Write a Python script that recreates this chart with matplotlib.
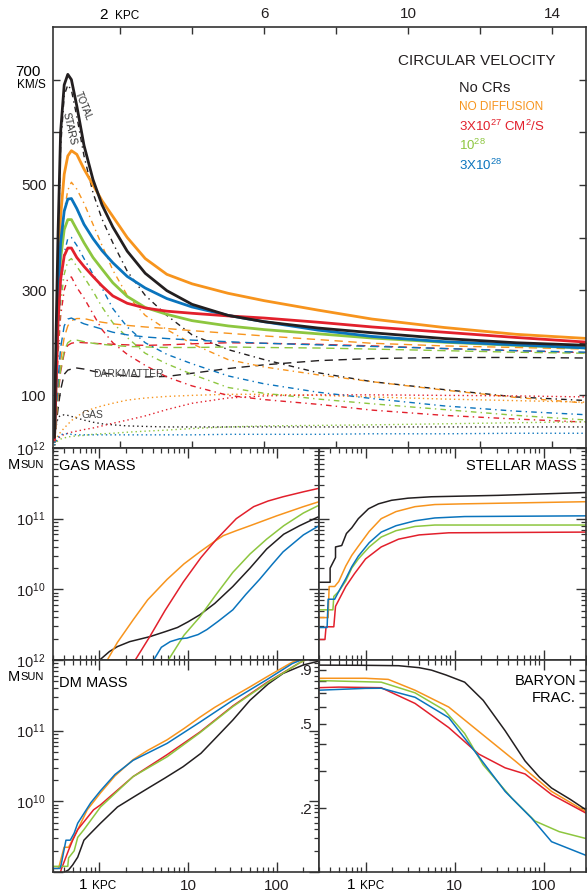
import numpy as np
import matplotlib
matplotlib.use("Agg")
import matplotlib.pyplot as plt
from matplotlib.ticker import LogLocator, NullLocator, NullFormatter, FixedLocator

plt.rcParams["font.family"] = ["Liberation Sans", "DejaVu Sans"]
plt.rcParams["mathtext.fontset"] = "custom"
plt.rcParams["mathtext.rm"] = "Liberation Sans"
plt.rcParams["mathtext.it"] = "Liberation Sans:italic"
plt.rcParams["mathtext.bf"] = "Liberation Sans:bold"

# ---- circular velocity panel (km/s vs kpc) ----
r_v = [0.18, 0.22, 0.28, 0.35, 0.45, 0.55, 0.65, 0.8, 1.0, 1.25, 1.5, 1.8,
       2.2, 2.7, 3.3, 4.0, 5.0, 6.0, 7.5, 9.0, 11.0, 13.0, 15.0]

vtot_nocr = [20, 200, 410, 600, 690, 710, 700, 650, 575, 510, 462, 420, 374, 332, 299, 273, 252, 240, 228, 219, 208, 200, 195]
vtot_nodiff = [20, 150, 330, 440, 520, 555, 565, 558, 530, 500, 470, 440, 400, 360, 330, 312, 294, 280, 262, 245, 229, 216, 208]
vtot_3e27 = [15, 110, 240, 320, 365, 380, 380, 362, 345, 326, 308, 289, 275, 266, 260, 256, 251, 247, 239, 230, 220, 210, 201]
vtot_1e28 = [15, 120, 270, 360, 415, 434, 434, 415, 390, 362, 340, 314, 288, 267, 254, 242, 232, 225, 217, 209, 201, 195, 190]
vtot_3e28 = [15, 130, 290, 390, 450, 473, 474, 455, 425, 398, 375, 352, 326, 304, 284, 268, 252, 240, 224, 212, 202, 196, 190]

vst_nocr = [10, 180, 380, 570, 670, 690, 680, 630, 555, 485, 435, 390, 336, 290, 252, 215, 187, 168, 143, 126, 111, 97, 90]
vst_nodiff = [10, 110, 250, 360, 450, 490, 505, 492, 465, 425, 385, 338, 290, 252, 225, 198, 168, 154, 139, 126, 110, 96, 85]
vst_3e27 = [10, 80, 180, 250, 300, 322, 325, 305, 285, 255, 225, 200, 178, 157, 135, 118, 100, 92, 83, 72, 62, 55, 49]
vst_1e28 = [10, 85, 195, 275, 330, 355, 360, 345, 325, 298, 268, 238, 210, 180, 160, 140, 115, 104, 93, 84, 73, 62, 53]
vst_3e28 = [10, 90, 210, 300, 370, 398, 400, 385, 360, 330, 304, 265, 230, 200, 178, 160, 137, 122, 106, 94, 80, 70, 63]

vdm_nocr = [10, 40, 75, 110, 140, 148, 150, 152, 150, 146, 143, 140, 137, 135, 136, 142, 151, 158, 166, 170, 172, 172, 171]
vdm_nodiff = [10, 50, 110, 165, 210, 232, 242, 246, 246, 242, 239, 236, 233, 230, 227, 223, 218, 213, 206, 199, 194, 191, 188]
vdm_3e27 = [10, 50, 100, 145, 180, 195, 199, 201, 200, 199, 198, 197, 196, 195, 196, 198, 200, 199, 197, 194, 189, 185, 181]
vdm_1e28 = [10, 50, 105, 150, 185, 200, 205, 205, 202, 199, 197, 195, 193, 192, 191, 191, 192, 191, 190, 188, 185, 182, 180]
vdm_3e28 = [10, 60, 130, 190, 232, 245, 247, 242, 236, 231, 226, 220, 215, 211, 208, 205, 202, 199, 196, 193, 189, 185, 182]

vgas_nocr = [10, 40, 58, 62, 63, 62, 60, 57, 53, 49, 46, 44, 42, 41, 40, 40, 40, 40, 40, 40, 40, 40, 40]
vgas_nodiff = [5, 15, 25, 30, 38, 45, 52, 60, 68, 75, 80, 85, 91, 95, 98, 100, 102, 102, 100, 97, 93, 90, 87]
vgas_3e27 = [5, 12, 18, 22, 26, 28, 30, 32, 35, 38, 42, 47, 53, 61, 73, 85, 95, 99, 101, 101, 100, 99, 97]
vgas_1e28 = [5, 10, 14, 17, 19, 21, 22, 23, 24, 26, 27, 28, 30, 32, 34, 37, 40, 42, 43, 44, 46, 48, 50]
vgas_3e28 = [5, 12, 20, 25, 27, 27, 26, 25, 25, 25, 25, 25, 25, 25, 25, 25, 26, 26, 26, 27, 27, 28, 28]

# ---- gas mass (log10 Msun) ----
rg_nocr = [0.9, 1.03, 1.3, 1.6, 2.2, 3.7, 5.5, 7.6, 10, 13.6, 20, 32, 50, 77, 120, 181, 300]
mg_nocr = [8.97, 9.01, 9.12, 9.19, 9.26, 9.33, 9.4, 9.46, 9.54, 9.64, 9.8, 10.04, 10.3, 10.57, 10.78, 10.9, 11.03]
rg_nodiff = [1.1, 1.23, 1.6, 2.41, 3.5, 5.8, 9, 13.6, 20, 25, 35, 50, 100, 200, 300]
mg_nodiff = [8.9, 9.0, 9.25, 9.57, 9.85, 10.14, 10.36, 10.53, 10.68, 10.76, 10.83, 10.9, 11.04, 11.17, 11.24]
rg_3e27 = [2.3, 2.54, 3.7, 5.5, 8.8, 14, 21, 35, 55, 80, 118, 200, 300]
mg_3e27 = [8.85, 9.0, 9.33, 9.7, 10.1, 10.45, 10.71, 11.0, 11.17, 11.25, 11.31, 11.38, 11.43]
rg_1e28 = [5.5, 6, 9, 13.6, 20, 32, 50, 77, 120, 200, 300]
mg_1e28 = [8.9, 9.0, 9.35, 9.61, 9.9, 10.24, 10.5, 10.71, 10.9, 11.08, 11.19]
rg_3e28 = [3.8, 4.1, 5, 6.3, 8, 9.7, 13, 16.3, 22, 32, 45, 64, 90, 118, 200, 300]
mg_3e28 = [8.9, 9.0, 9.18, 9.26, 9.3, 9.31, 9.36, 9.43, 9.55, 9.71, 9.93, 10.14, 10.36, 10.53, 10.77, 10.9]

# ---- stellar mass (log10 Msun) ----
rs_nocr = [0.29, 0.40, 0.40, 0.46, 0.46, 0.54, 0.61, 0.7, 0.83, 1.08, 1.4, 1.96, 3, 5.5, 31, 300]
ms_nocr = [10.1, 10.1, 10.3, 10.45, 10.6, 10.62, 10.79, 10.87, 11.0, 11.14, 11.21, 11.26, 11.29, 11.31, 11.33, 11.37]
rs_nodiff = [0.29, 0.38, 0.39, 0.45, 0.5, 0.6, 0.7, 0.83, 1.1, 1.5, 2.2, 3.6, 6, 13, 300]
ms_nodiff = [9.6, 9.6, 10.04, 10.04, 10.11, 10.33, 10.48, 10.61, 10.82, 11.0, 11.1, 11.17, 11.2, 11.21, 11.24]
rs_3e27 = [0.29, 0.35, 0.36, 0.44, 0.46, 0.6, 0.75, 1.0, 1.5, 2.35, 4, 8.6, 300]
ms_3e27 = [9.29, 9.29, 9.47, 9.47, 9.76, 10.04, 10.22, 10.43, 10.6, 10.71, 10.77, 10.8, 10.81]
rs_1e28 = [0.29, 0.43, 0.44, 0.5, 0.6, 0.7, 0.83, 1.1, 1.5, 2.2, 3.6, 6, 13, 300]
ms_1e28 = [9.71, 9.71, 9.9, 9.97, 10.12, 10.3, 10.43, 10.6, 10.74, 10.83, 10.89, 10.91, 10.91, 10.91]
rs_3e28 = [0.29, 0.37, 0.38, 0.45, 0.5, 0.6, 0.7, 0.83, 1.1, 1.5, 2.2, 3.6, 6, 13, 300]
ms_3e28 = [9.46, 9.46, 9.86, 9.86, 9.97, 10.15, 10.32, 10.47, 10.66, 10.81, 10.9, 10.97, 11.01, 11.03, 11.04]

# ---- dark matter mass (log10 Msun) ----
rd_nocr = [0.29, 0.45, 0.5, 0.57, 0.67, 0.8, 1.03, 1.6, 2.5, 3.7, 5.5, 8.8, 14, 21, 32, 50, 80, 118, 200, 290]
md_nocr = [8.9, 9.03, 9.1, 9.21, 9.45, 9.55, 9.69, 9.92, 10.07, 10.2, 10.33, 10.49, 10.68, 10.91, 11.15, 11.43, 11.66, 11.81, 11.93, 11.98]
rd_nodiff = [0.29, 0.34, 0.35, 0.40, 0.45, 0.57, 0.73, 1.03, 1.5, 2.4, 3.5, 5.8, 9, 13.6, 20, 32, 50, 77, 150, 300]
md_nodiff = [9.05, 9.05, 9.07, 9.35, 9.35, 9.6, 9.88, 10.12, 10.36, 10.59, 10.72, 10.87, 11.03, 11.19, 11.33, 11.48, 11.62, 11.76, 11.97, 12.1]
rd_3e27 = [0.29, 0.36, 0.37, 0.45, 0.5, 0.57, 0.86, 1.03, 2.4, 5.8, 13.6, 32, 77, 181, 300]
md_3e27 = [8.95, 8.95, 9.03, 9.31, 9.45, 9.6, 9.88, 9.95, 10.35, 10.66, 10.98, 11.35, 11.68, 11.96, 12.1]
rd_1e28 = [0.29, 0.44, 0.45, 0.52, 0.57, 0.67, 1.03, 2.4, 5.8, 13.6, 32, 77, 181, 300]
md_1e28 = [9.08, 9.08, 9.2, 9.3, 9.49, 9.6, 9.92, 10.35, 10.63, 10.97, 11.34, 11.67, 11.96, 12.1]
rd_3e28 = [0.29, 0.36, 0.37, 0.42, 0.47, 0.52, 0.57, 0.8, 1.03, 1.5, 2.4, 5.8, 13.6, 32, 77, 150, 300]
md_3e28 = [9.05, 9.05, 9.1, 9.45, 9.45, 9.55, 9.69, 9.98, 10.15, 10.38, 10.58, 10.82, 11.12, 11.43, 11.72, 11.95, 12.1]

# ---- baryon fraction ----
rb_nocr = [0.29, 1, 2.35, 4, 5.5, 8, 13, 21, 37, 62, 90, 123, 200, 297]
fb_nocr = [0.946, 0.944, 0.94, 0.92, 0.896, 0.85, 0.786, 0.645, 0.464, 0.334, 0.28, 0.249, 0.22, 0.197]
rb_nodiff = [0.29, 1, 1.8, 3.6, 8.6, 20, 48, 123, 297]
fb_nodiff = [0.82, 0.82, 0.81, 0.72, 0.60, 0.45, 0.334, 0.24, 0.193]
rb_3e27 = [0.29, 0.5, 1.5, 3.6, 8.6, 18.7, 37, 62, 123, 297]
fb_3e27 = [0.74, 0.745, 0.74, 0.624, 0.48, 0.36, 0.31, 0.29, 0.232, 0.19]
rb_1e28 = [0.29, 1.5, 3.6, 7.7, 13, 21, 44, 80, 150, 297]
fb_1e28 = [0.80, 0.786, 0.70, 0.58, 0.45, 0.32, 0.223, 0.174, 0.155, 0.144]
rb_3e28 = [0.29, 1.0, 1.5, 3.6, 8.6, 16.7, 37, 73, 123, 297]
fb_3e28 = [0.72, 0.735, 0.736, 0.667, 0.535, 0.373, 0.24, 0.18, 0.139, 0.12]

BLACK = "#231f20"
ORANGE = "#f7941d"
RED = "#e2202c"
GREEN = "#8dc63f"
BLUE = "#0a74bd"
models = ["nocr", "nodiff", "3e27", "1e28", "3e28"]
colors = dict(nocr=BLACK, nodiff=ORANGE, **{"3e27": RED, "1e28": GREEN, "3e28": BLUE})
g = globals()

W, H = 587, 893
fig = plt.figure(figsize=(W / 100, H / 100), dpi=100)


def box(x0, y0, x1, y1):
    return [x0 / W, 1 - y1 / H, (x1 - x0) / W, (y1 - y0) / H]


def ftext(x, y, s, **kw):
    fig.text(x / W, 1 - y / H, s, **kw)


SPINE = "#333333"


def style(ax):
    for sp in ax.spines.values():
        sp.set_linewidth(1.2)
        sp.set_color(SPINE)
    ax.tick_params(which="both", direction="in", top=True, right=True,
                   color=SPINE, labelcolor=BLACK)


# ---------------- top panel ----------------
ax = fig.add_axes(box(53, 27, 586, 448))
style(ax)
dm_dash = (0, (6, 4))
st_dash = (0, (4, 3, 1, 3))
gas_dot = (0, (1, 2.2))
for m in models:
    c = colors[m]
    ax.plot(r_v, g["vgas_" + m], color=c, lw=1.0, ls=gas_dot)
    ax.plot(r_v, g["vdm_" + m], color=c, lw=1.0, ls=dm_dash)
    ax.plot(r_v, g["vst_" + m], color=c, lw=1.0, ls=st_dash)
for m in ["nodiff", "1e28", "3e28", "3e27", "nocr"]:
    ax.plot(r_v, g["vtot_" + m], color=colors[m], lw=2.0, solid_capstyle="round")

ax.set_xlim(0.139, 14.94)
ax.set_ylim(0, 800)
ax.set_xticks([2, 4, 6, 8, 10, 12, 14])
ax.set_xticklabels(["", "", "6", "", "10", "", "14"])
ax.set_yticks([100, 200, 300, 400, 500, 600, 700])
ax.set_yticklabels(["100", "", "300", "", "500", "", ""])
ax.tick_params(which="major", length=5, width=1, labeltop=True, labelbottom=False,
               labelsize=11, pad=4.5)

ftext(108, 15, "2", ha="right", va="center", size=11)
ftext(115, 16, "KPC", ha="left", va="center", size=8.5)
ftext(41, 72.5, "700", ha="right", va="center", size=11)
ftext(46, 85, "KM/S", ha="right", va="center", size=8.5)

ftext(555, 61, "CIRCULAR VELOCITY", ha="right", va="center", size=11, color=BLACK)
ftext(459, 88, "No CRs", ha="left", va="center", size=10.5, color=BLACK)
ftext(459, 107, "NO DIFFUSION", ha="left", va="center", size=8.5, color=ORANGE)
ftext(459, 126, r"3X10$^{27}$ CM$^{2}$/S", ha="left", va="center", size=9.5, color=RED)
ftext(459, 145, r"10$^{28}$", ha="left", va="center", size=9.5, color=GREEN)
ftext(459, 165, r"3X10$^{28}$", ha="left", va="center", size=9.5, color=BLUE)

ftext(83, 106, "TOTAL", ha="center", va="center", size=7, rotation=-68, color="#333333")
ftext(69, 129, "STARS", ha="center", va="center", size=7.5, rotation=-77, color="#333333")
ftext(128, 374, "DARKMATTER", ha="center", va="center", size=7.5, color="#444444")
ftext(92, 415, "GAS", ha="center", va="center", size=7.5, color="#444444")


# ---------------- lower panels ----------------
def log_panel(ax, ylog=True):
    style(ax)
    ax.set_xscale("log")
    ax.set_xlim(0.3, 300)
    ax.xaxis.set_major_locator(FixedLocator([1, 10, 100]))
    ax.xaxis.set_minor_locator(LogLocator(base=10, subs=np.arange(2, 10)))
    ax.xaxis.set_minor_formatter(NullFormatter())
    if ylog:
        ax.set_yscale("log")
        ax.set_ylim(1e9, 1e12)
        ax.yaxis.set_major_locator(FixedLocator([1e9, 1e10, 1e11, 1e12]))
        ax.yaxis.set_minor_locator(LogLocator(base=10, subs=np.arange(2, 10)))
        ax.yaxis.set_minor_formatter(NullFormatter())
    ax.tick_params(which="major", length=7, width=1)
    ax.tick_params(which="minor", length=3.5, width=0.9)
    ax.tick_params(labelbottom=False, labelleft=False)


ax_g = fig.add_axes(box(53, 448, 319, 660))
ax_s = fig.add_axes(box(319, 448, 586, 660))
ax_d = fig.add_axes(box(53, 660, 319, 872))
ax_b = fig.add_axes(box(319, 660, 586, 872))
for a in (ax_g, ax_s, ax_d):
    log_panel(a)
log_panel(ax_b, ylog=False)

for m in models:
    c = colors[m]
    ax_g.plot(g["rg_" + m], 10 ** np.array(g["mg_" + m]), color=c, lw=1.1)
    ax_s.plot(g["rs_" + m], 10 ** np.array(g["ms_" + m]), color=c, lw=1.1)
    ax_d.plot(g["rd_" + m], 10 ** np.array(g["md_" + m]), color=c, lw=1.1)
    ax_b.plot(g["rb_" + m], g["fb_" + m], color=c, lw=1.1)

for a in (ax_g, ax_d):
    a.set_yticks([1e9, 1e10, 1e11, 1e12])
    a.set_yticklabels(["", r"10$^{10}$", r"10$^{11}$", r"10$^{12}$"])
    a.tick_params(labelleft=True, labelsize=10.5, pad=5.5)

ax_b.set_yscale("log")
ax_b.set_ylim(0.1, 1.0)
ax_b.yaxis.set_major_locator(FixedLocator([0.2, 0.3, 0.4, 0.5, 0.6, 0.7, 0.8, 0.9]))
ax_b.yaxis.set_minor_locator(NullLocator())
ax_b.yaxis.set_minor_formatter(NullFormatter())
ax_b.set_yticklabels([".2", "", "", ".5", "", "", "", ".9"])
ax_b.tick_params(axis="y", which="major", length=5, labelleft=True, labelsize=11, pad=5)

for a in (ax_d, ax_b):
    a.set_xticklabels(["", "10", "100"])
    a.tick_params(axis="x", labelbottom=True, labelsize=11, pad=5)

for x0 in (99.4, 367.4):
    ftext(x0 - 12.5, 885, "1", ha="right", va="center", size=11)
    ftext(x0 - 7.5, 886, "KPC", ha="left", va="center", size=8.5)

for y0 in (465, 677):
    ftext(20, y0, "M", ha="right", va="center", size=10.5)
    ftext(44, y0 + 0.5, "SUN", ha="right", va="center", size=8)

ftext(59, 466, "GAS MASS", ha="left", va="center", size=10.5)
ftext(577, 466, "STELLAR MASS", ha="right", va="center", size=10.5)
ftext(59, 683, "DM MASS", ha="left", va="center", size=10.5)
ftext(576, 681, "BARYON", ha="right", va="center", size=10.5)
ftext(576, 698, "FRAC.", ha="right", va="center", size=10.5)

fig.savefig("out.png", dpi=100)
